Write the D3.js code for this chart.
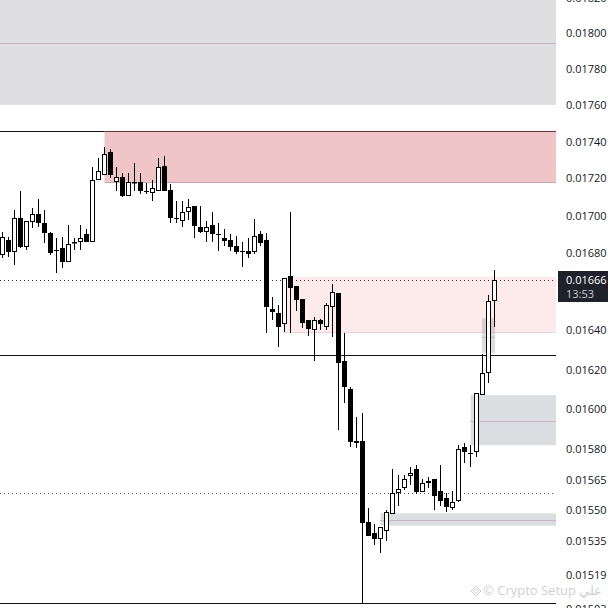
<!DOCTYPE html>
<html><head><meta charset="utf-8">
<script src="https://cdn.jsdelivr.net/npm/d3@7"></script>
<style>html,body{margin:0;padding:0;background:#fff;overflow:hidden}svg{display:block}</style>
</head><body><svg id="c" width="608" height="608"></svg>
<script>
// ---- DATA (prices) ----
const openP = [
0.016792,0.016871,0.016809,0.016986,0.016835,0.016968,0.017007,0.016960,0.016906,0.016818,
0.016827,0.016756,0.016859,0.016859,0.016901,0.016859,0.017191,0.017218,0.017344,0.017179,
0.017206,0.017107,0.017179,0.017179,0.017132,0.017120,0.017132,0.017267,0.017137,0.016986,
0.016970,0.017018,0.017052,0.016938,0.016915,0.016949,0.016901,0.016883,0.016871,0.016839,
0.016813,0.016813,0.016809,0.016903,0.016871,0.016510,0.016488,0.016431,0.016681,0.016629,
0.016562,0.016453,0.016401,0.016453,0.016418,0.016519,0.016591,0.016243,0.016099,0.015840,
0.015840,0.015442,0.015389,0.015360,0.015402,0.015481,0.015583,0.015610,0.015669,0.015700,
0.015591,0.015632,0.015651,0.015595,0.015558,0.015510,0.015547,0.015812,0.015779,0.015787,
0.016070,0.016180,0.016549];
const highP = [
0.016915,0.016888,0.017030,0.017132,0.016972,0.017039,0.017090,0.017030,0.016915,0.016880,
0.016888,0.016949,0.016882,0.016949,0.016928,0.017263,0.017308,0.017368,0.017359,0.017263,
0.017227,0.017227,0.017281,0.017227,0.017173,0.017191,0.017308,0.017322,0.017170,0.017079,
0.017079,0.017088,0.017052,0.017052,0.016972,0.017018,0.016960,0.016930,0.016903,0.016890,
0.016862,0.016880,0.016982,0.016919,0.016906,0.016570,0.016530,0.016670,0.017018,0.016629,
0.016562,0.016453,0.016467,0.016459,0.016542,0.016638,0.016591,0.016384,0.016110,0.015959,
0.015979,0.015510,0.015432,0.015421,0.015502,0.015702,0.015672,0.015672,0.015713,0.015722,
0.015653,0.015664,0.015651,0.015722,0.015583,0.015595,0.015820,0.015829,0.015820,0.016080,
0.016277,0.016583,0.016713];
const lowP = [
0.016774,0.016783,0.016739,0.016827,0.016818,0.016933,0.016941,0.016854,0.016792,0.016696,
0.016722,0.016756,0.016818,0.016818,0.016859,0.016859,0.017191,0.017218,0.017200,0.017133,
0.017102,0.017107,0.017133,0.017116,0.017116,0.017080,0.017132,0.017133,0.016963,0.016963,
0.016941,0.016977,0.016884,0.016906,0.016862,0.016862,0.016814,0.016841,0.016814,0.016795,
0.016730,0.016774,0.016795,0.016841,0.016384,0.016453,0.016313,0.016392,0.016384,0.016500,
0.016413,0.016371,0.016245,0.016401,0.016404,0.016367,0.015895,0.016031,0.015812,0.015804,
0.015056,0.015377,0.015332,0.015295,0.015353,0.015481,0.015521,0.015600,0.015623,0.015578,
0.015591,0.015608,0.015502,0.015520,0.015494,0.015502,0.015542,0.015733,0.015713,0.015763,
0.016070,0.016129,0.016418];
const closeP = [
0.016888,0.016809,0.016986,0.016835,0.016972,0.017007,0.016960,0.016906,0.016801,0.016815,
0.016756,0.016848,0.016860,0.016880,0.016859,0.017191,0.017240,0.017331,0.017218,0.017206,
0.017107,0.017179,0.017180,0.017133,0.017131,0.017146,0.017260,0.017133,0.016986,0.016985,
0.017018,0.017048,0.016946,0.016915,0.016938,0.016901,0.016900,0.016867,0.016835,0.016809,
0.016812,0.016799,0.016891,0.016857,0.016519,0.016497,0.016418,0.016669,0.016617,0.016559,
0.016439,0.016409,0.016453,0.016431,0.016530,0.016596,0.016231,0.016110,0.015837,0.015829,
0.015440,0.015377,0.015360,0.015421,0.015491,0.015583,0.015603,0.015651,0.015681,0.015591,
0.015632,0.015643,0.015571,0.015547,0.015517,0.015539,0.015799,0.015787,0.015778,0.016079,
0.016180,0.016549,0.016660];

const tickValues = [0.0182,0.0180,0.0178,0.0176,0.0174,0.0172,0.0170,0.0168,0.0164,0.0162,0.0160,0.0158,0.01565,0.0155,0.01535,0.01519,0.01503];
const tickLabels = ["0.01820","0.01800","0.01780","0.01760","0.01740","0.01720","0.01700","0.01680","0.01640","0.01620","0.01600","0.01580","0.01565","0.01550","0.01535","0.01519","0.01503"];
const lastPrice = 0.01666;
const lastPriceLabel = "0.01666";
const countdown = "13:53";

// drawn zones: [fromIndex, top price, bottom price, mid price]
const supplyTopZone = [0, 0.01830, 0.017600, 0.017944];
const supplyZone = [17, 0.017457, 0.017180];
const priceZone = [46.83, 0.016677, 0.016389];
const boxA = [79.9, 0.016462, 0.016285, 0.016367, 82.1];
const boxB = [78, 0.016070, 0.015820, 0.015942];
const boxC = [63, 0.015486, 0.015426, 0.015453];
const hLines = [ {from:0, to:17, p:0.017457}, {from:0, to:null, p:0.016272}, {from:0, to:null, p:0.015056} ];
const dotLines = [0.01666, 0.015583];
const watermark = "© Crypto Setup علي";

// ---- CHART ----
const svg = d3.select("#c");
const paneW = 556;
const n = openP.length;
const x = d3.scaleLinear().domain([0, n-1]).range([2.5, 494.5]);
const y = d3.scaleLog().domain([0.018189, 0.015033]).range([0, 608]);
const cy = p => Math.round(y(p)) + 0.5;
const rightIdx = x.invert(paneW);

svg.append("rect").attr("width",608).attr("height",608).attr("fill","#ffffff");
const pane = svg.append("g");
pane.append("clipPath").attr("id","clp").append("rect").attr("width",paneW).attr("height",608);
const g = pane.append("g").attr("clip-path","url(#clp)");

function zone(z, fill, toIdx){
  const x0 = x(z[0]), x1 = toIdx!=null ? x(toIdx) : paneW;
  g.append("rect").attr("x",x0).attr("y",y(z[1])).attr("width",x1-x0).attr("height",y(z[2])-y(z[1])).attr("fill",fill);
}
// top gray zone
zone([-1, supplyTopZone[1], supplyTopZone[2]], "#dfdee1");
g.append("line").attr("x1",0).attr("x2",paneW).attr("y1",cy(supplyTopZone[3])).attr("y2",cy(supplyTopZone[3])).attr("stroke","#c7b4c2").attr("stroke-width",1);
// pink supply zone
zone(supplyZone, "#efc5c8");
g.append("line").attr("x1",x(supplyZone[0])).attr("x2",paneW).attr("y1",cy(supplyZone[1])).attr("y2",cy(supplyZone[1])).attr("stroke","#7d2f36");
g.append("line").attr("x1",x(supplyZone[0])).attr("x2",paneW).attr("y1",cy(supplyZone[2])).attr("y2",cy(supplyZone[2])).attr("stroke","#d6a3a9");
// light pink zone
zone(priceZone, "#fdeaeb");
g.append("line").attr("x1",x(priceZone[0])).attr("x2",paneW).attr("y1",cy(priceZone[2])).attr("y2",cy(priceZone[2])).attr("stroke","#f1d2da");
// gray boxes
function gbox(b, toIdx){
  const x0 = x(b[0]), x1 = toIdx!=null ? x(toIdx) : paneW;
  g.append("rect").attr("x",x0).attr("y",y(b[1])).attr("width",x1-x0).attr("height",y(b[2])-y(b[1])).attr("fill","rgba(120,123,134,0.26)");
  g.append("line").attr("x1",x0).attr("x2",x1).attr("y1",cy(b[3])).attr("y2",cy(b[3])).attr("stroke","#c9b3c9");
}
gbox(boxB); gbox(boxC); gbox(boxA, boxA[4]);

// horizontal lines
hLines.forEach(l=>{
  g.append("line").attr("x1",x(l.from)-10).attr("x2",l.to!=null?x(l.to):paneW)
    .attr("y1",cy(l.p)).attr("y2",cy(l.p)).attr("stroke","#111").attr("stroke-width",1);
});
// dotted lines
dotLines.forEach((p,i)=>{
  g.append("line").attr("x1",0).attr("x2",paneW).attr("y1",cy(p)).attr("y2",cy(p))
   .attr("stroke", i===0?"#333":"#555").attr("stroke-width",1).attr("stroke-dasharray","1,3");
});

// candles
const data = d3.range(n).map(i=>({i,o:openP[i],h:highP[i],l:lowP[i],c:closeP[i]}));
const cg = g.append("g");
cg.selectAll("line.w").data(data).join("line").attr("class","w")
  .attr("x1",d=>x(d.i)).attr("x2",d=>x(d.i))
  .attr("y1",d=>Math.round(y(d.h))).attr("y2",d=>Math.round(y(d.l)))
  .attr("stroke","#000").attr("stroke-width",1);
cg.selectAll("rect.b").data(data).join("rect").attr("class","b")
  .each(function(d){
    const up = d.c >= d.o;
    const top = Math.round(y(Math.max(d.o,d.c))), bot = Math.round(y(Math.min(d.o,d.c)));
    const s = d3.select(this);
    if(up){
      s.attr("x",x(d.i)-2).attr("y",top+0.5).attr("width",4).attr("height",Math.max(bot-top-1,0.5))
       .attr("fill","#fff").attr("stroke","#000").attr("stroke-width",1);
    } else {
      s.attr("x",x(d.i)-2.5).attr("y",top).attr("width",5).attr("height",Math.max(bot-top,1))
       .attr("fill","#000");
    }
  });

// axis
const ax = svg.append("g").attr("transform",`translate(${paneW},0)`)
  .call(d3.axisRight(y).tickValues(tickValues).tickFormat((d,i)=>tickLabels[i]).tickSize(0).tickPadding(10));
ax.select(".domain").remove();
ax.selectAll("text").attr("font-family","'Open Sans', sans-serif").attr("font-size","11px").attr("fill","#131722");

// last price label
const lp = svg.append("g");
lp.append("rect").attr("x",558).attr("y",Math.round(y(lastPrice))-9).attr("width",50).attr("height",31).attr("fill","#1f222b");
lp.append("text").attr("x",566).attr("y",y(lastPrice)).attr("dy","0.35em").text(lastPriceLabel)
  .attr("font-family","'Open Sans', sans-serif").attr("font-size","11px").attr("fill","#ffffff");
lp.append("text").attr("x",566).attr("y",y(lastPrice)+14).attr("dy","0.35em").text(countdown)
  .attr("font-family","'Open Sans', sans-serif").attr("font-size","11px").attr("fill","#c9ccd3");

// watermark
const wm = svg.append("g").attr("opacity",0.55);
wm.append("path").attr("d","M476 586 L481 591 L476 596 L471 591 Z M476 588.5 L478.5 591 L476 593.5 L473.5 591 Z")
  .attr("fill","none").attr("stroke","#a9a9b0").attr("stroke-width",1);
wm.append("text").attr("x",483).attr("y",595).text(watermark)
  .attr("font-family","'Open Sans', sans-serif").attr("font-size","13px").attr("fill","#a9a9b0");
</script></body></html>
